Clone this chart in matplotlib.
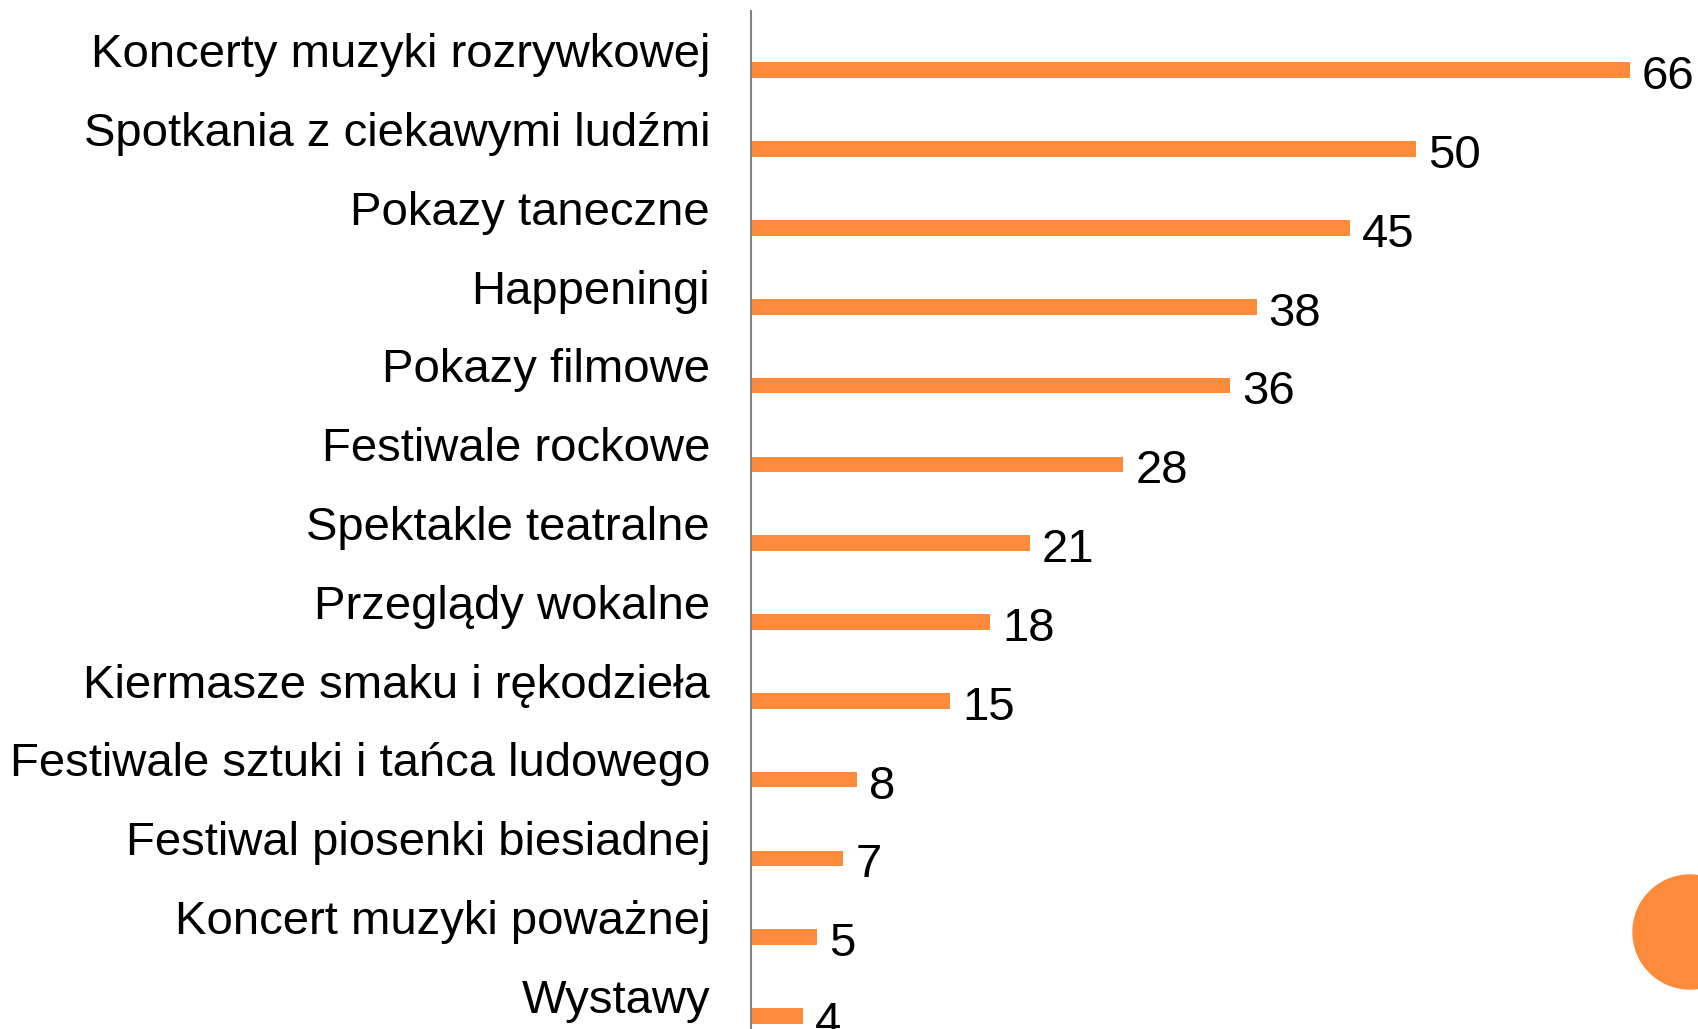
import matplotlib.pyplot as plt
from matplotlib.patches import Ellipse

# Data
categories = [
    'Koncerty muzyki rozrywkowej',
    'Spotkania z ciekawymi ludźmi',
    'Pokazy taneczne',
    'Happeningi',
    'Pokazy filmowe',
    'Festiwale rockowe',
    'Spektakle teatralne',
    'Przeglądy wokalne',
    'Kiermasze smaku i rękodzieła',
    'Festiwale sztuki i tańca ludowego',
    'Festiwal piosenki biesiadnej',
    'Koncert muzyki poważnej',
    'Wystawy',
]
values = [66, 50, 45, 38, 36, 28, 21, 18, 15, 8, 7, 5, 4]

orange = '#FD8B3B'
plt.rcParams['font.family'] = ['Liberation Sans', 'DejaVu Sans']

fig = plt.figure(figsize=(16.99, 10.29), dpi=100)
ax = fig.add_axes([750 / 1699, 0, 949 / 1699, 1])

pos = list(range(len(categories)))
ax.barh(pos, values, height=0.2, color=orange, align='center')

for i, (cat, v) in enumerate(zip(categories, values)):
    ax.text(-3.0, i - 0.04, cat, ha='right', va='baseline',
            fontsize=34, color='black', clip_on=False)
    ax.text(v + 0.9, i + 0.24, str(v), ha='left', va='baseline',
            fontsize=34, color='black', clip_on=False)

ax.set_xlim(0, 949 / 13.33)
ax.set_ylim(12.165, -0.893)
ax.axvline(0, ymin=0, ymax=1 - 11 / 1029, color='#808080', lw=2.2)
ax.axis('off')

# decorative circle at the bottom right
fig.patches.append(Ellipse((1690 / 1699, 1 - 932 / 1029), 114 / 1699, 114 / 1029,
                           transform=fig.transFigure, color=orange))

fig.savefig('out.png', dpi=100)
